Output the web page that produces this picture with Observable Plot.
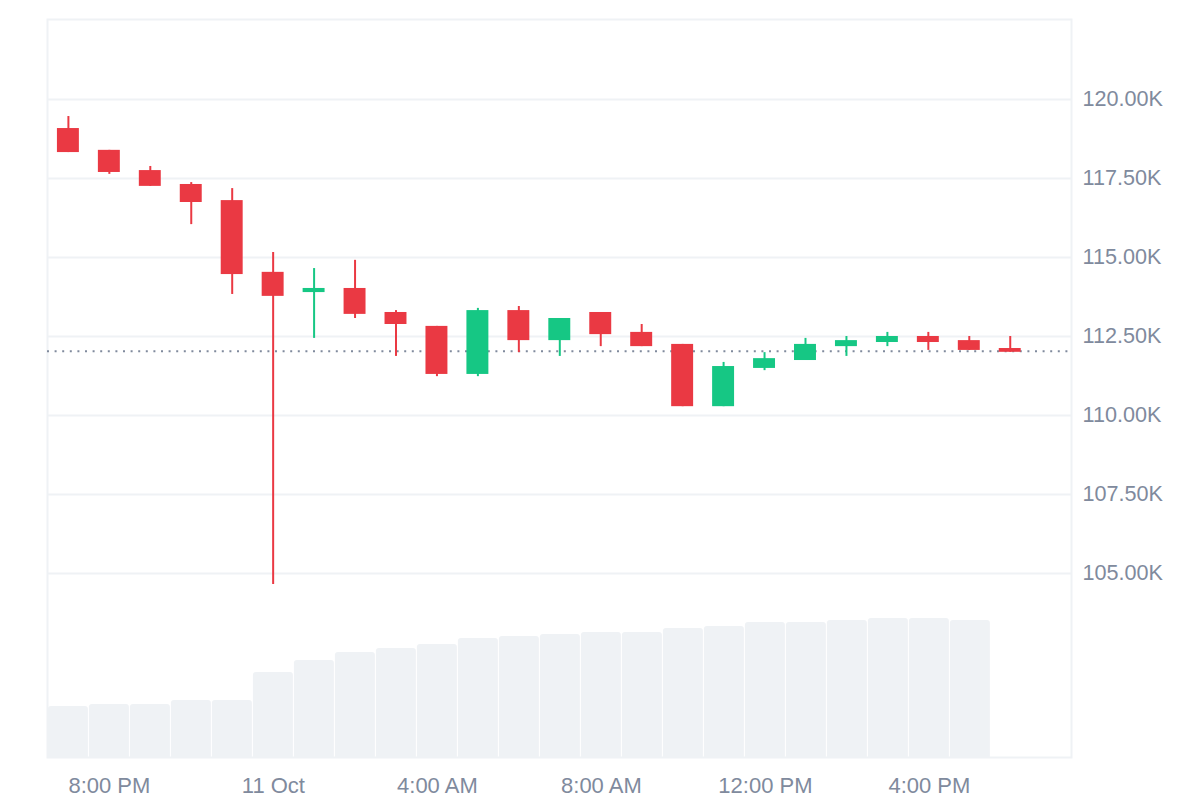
<!DOCTYPE html>
<html>
<head>
<meta charset="utf-8">
<style>
html,body{margin:0;padding:0;background:#fff;}
svg{display:block;}
</style>
<script src="https://cdn.jsdelivr.net/npm/d3@7"></script>
<script src="https://cdn.jsdelivr.net/npm/@observablehq/plot@0.6"></script>
</head>
<body>
<div id="chart"></div>
<script>
const HOUR = 3600000;
const startTime = Date.UTC(2025, 9, 10, 19);
const opens  = [119.08,118.39,117.75,117.31,116.80,114.53,113.89,114.02,113.26,112.82,111.30,113.32,112.37,113.26,112.63,112.25,110.28,111.49,111.74,112.18,112.31,112.50,112.37,112.12];
const closes = [118.32,117.69,117.25,116.74,114.46,113.77,114.02,113.20,112.88,111.30,113.32,112.37,113.07,112.56,112.18,110.28,111.55,111.80,112.25,112.37,112.50,112.31,112.06,112.00];
const highs  = [119.46,118.39,117.88,117.37,117.18,115.16,114.65,114.91,113.32,112.82,113.39,113.45,113.07,113.13,112.88,112.25,111.68,111.99,112.44,112.50,112.63,112.63,112.50,112.50];
const lows   = [118.32,117.63,117.25,116.04,113.83,104.65,112.44,113.07,111.87,111.23,111.23,111.99,111.87,112.18,112.18,110.28,110.28,111.42,111.74,111.87,112.18,112.06,112.06,112.00];
const volumes = [51,53,53,57,57,85,97,105,109,113,119,121,123,125,125,129,131,135,135,137,139,139,137];
const priceTicks = [105,107.5,110,112.5,115,117.5,120];
const timeTickHours = [1,5,9,13,17,21];
const timeTickLabels = ["8:00 PM","11 Oct","4:00 AM","8:00 AM","12:00 PM","4:00 PM"];
const lastPrice = 112.03;
const priceDomain = [99.18, 122.53];
const volumePerPrice = 31.6;
const slotStretch = 41 / 40.95;

const hourToDate = h => new Date(startTime + h * HOUR);
const candles = opens.map((o, i) => ({
  i, open: o, close: closes[i], high: highs[i], low: lows[i],
  up: closes[i] >= o
}));
const bars = volumes.map((v, i) => ({i, v}));
const volumeToPrice = v => priceDomain[0] + v / volumePerPrice;
const timeTicks = timeTickHours.map(h => hourToDate(h * slotStretch));
const labelFor = d => timeTickLabels[timeTicks.findIndex(t => +t === +d)];

const red = "#ea3943", green = "#16c784", faint = "#eff2f5", muted = "#808a9d";
const col = d => d.up ? green : red;

const chart = Plot.plot({
  width: 1200, height: 800,
  marginTop: 19, marginBottom: 43, marginLeft: 47, marginRight: 129,
  style: {fontFamily: "'Liberation Sans', Arial, sans-serif", fontSize: "21.6px", background: "#fff"},
  x: {type: "utc", domain: [hourToDate(-0.5104), hourToDate(24.496)]},
  y: {domain: priceDomain},
  marks: [
    Plot.ruleY(priceTicks, {stroke: faint, strokeWidth: 2}),
    Plot.frame({stroke: faint, strokeWidth: 2}),
    Plot.rectY(bars, {
      x1: d => hourToDate(d.i * slotStretch - 0.488), x2: d => hourToDate(d.i * slotStretch + 0.488),
      y1: priceDomain[0] - 0.2, y2: d => volumeToPrice(d.v),
      fill: faint, rx: 3, clip: "frame"
    }),
    Plot.ruleY([lastPrice], {stroke: "#808a9d", strokeWidth: 2, strokeDasharray: "2,5.6"}),
    Plot.ruleX(candles, {
      x: d => hourToDate(d.i), y1: "low", y2: "high",
      stroke: col, strokeWidth: 2
    }),
    Plot.rect(candles, {
      x1: d => hourToDate(d.i - 0.268), x2: d => hourToDate(d.i + 0.268),
      y1: "open", y2: "close", fill: col
    }),
    Plot.axisY(priceTicks, {
      anchor: "right", tickSize: 0, tickPadding: 11, label: null,
      tickFormat: d => d3.format(".2f")(d) + "K", color: muted, fill: muted
    }),
    Plot.axisX(timeTicks, {
      anchor: "bottom", tickSize: 0, tickPadding: 20, label: null, fontSize: 22,
      tickFormat: labelFor, color: muted, fill: muted
    })
  ]
});
document.getElementById("chart").appendChild(chart);
</script>
</body>
</html>
